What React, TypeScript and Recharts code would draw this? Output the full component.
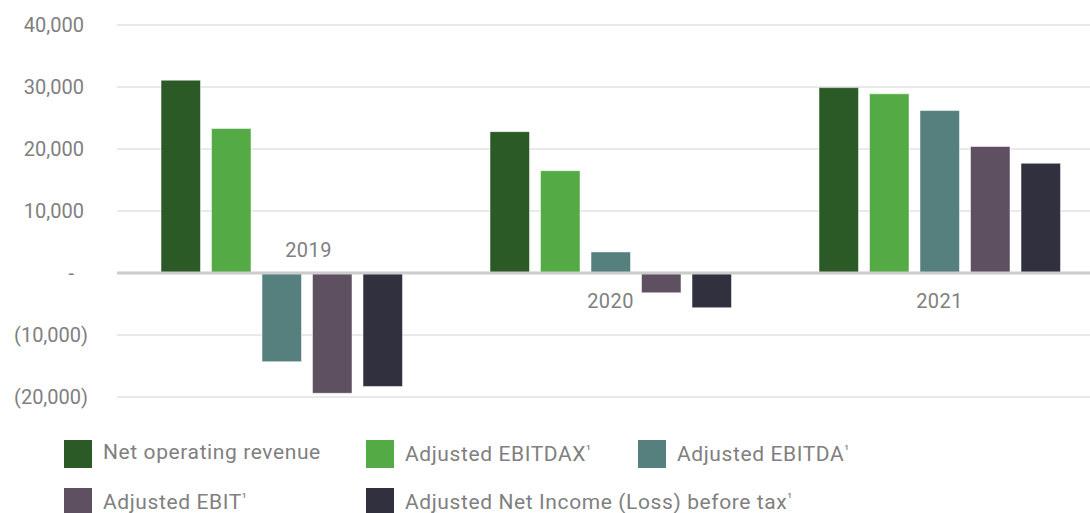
import { BarChart, Bar, XAxis, YAxis, CartesianGrid, ReferenceLine, Legend } from "recharts";

const categories = ["2019", "2020", "2021"];
const netOperatingRevenue = [31100, 22800, 29900];
const adjustedEbitdax = [23300, 16500, 28900];
const adjustedEbitda = [-14300, 3400, 26200];
const adjustedEbit = [-19400, -3200, 20400];
const adjustedNetIncome = [-18300, -5600, 17700];
const yTicks = [-20000, -10000, 0, 10000, 20000, 30000, 40000];

const series = [
  { key: "nor", name: "Net operating revenue", values: netOperatingRevenue, color: "#2c5a27" },
  { key: "ebitdax", name: "Adjusted EBITDAX¹", values: adjustedEbitdax, color: "#54aa44" },
  { key: "ebitda", name: "Adjusted EBITDA¹", values: adjustedEbitda, color: "#55807e" },
  { key: "ebit", name: "Adjusted EBIT¹", values: adjustedEbit, color: "#5e5061" },
  { key: "ni", name: "Adjusted Net Income (Loss) before tax¹", values: adjustedNetIncome, color: "#31303f" },
];

const data = categories.map((c, i) => {
  const row: Record<string, any> = { year: c };
  series.forEach((s) => (row[s.key] = s.values[i]));
  return row;
});

const W = 1104;
const H = 513;
const TOP = 25;
const X_H = 1;
const LEGEND_H = 115;
const Y_MIN = -20000;
const Y_MAX = 40000;
const PLOT_H = H - TOP - LEGEND_H - X_H;
const ZERO_Y = TOP + (PLOT_H * Y_MAX) / (Y_MAX - Y_MIN);
const GREY = "#808080";

const fmt = (v: number) => {
  if (v === 0) return "-";
  const s = Math.abs(v).toLocaleString("en-US");
  return v < 0 ? `(${s})` : s;
};

function YTick({ y, payload }: any) {
  const v = payload.value;
  const x = v === 0 ? 74 : v < 0 ? 88 : 84;
  return (
    <text x={x} y={y} dy={7} textAnchor="end" fill={GREY} fontSize={20}>
      {fmt(v)}
    </text>
  );
}

function XTick({ x, index, payload }: any) {
  // 2019 sits above the axis because its right-hand bars hang below it
  const above = index === 0;
  return (
    <text x={above ? x + 27 : x} y={above ? ZERO_Y - 16 : ZERO_Y + 35} textAnchor="middle" fill={GREY} fontSize={20} letterSpacing={0.4}>
      {payload.value}
    </text>
  );
}

function LegendBox() {
  const cell = (s: (typeof series)[number]) => {
    const [main, ...rest] = s.name.split("¹");
    return (
      <div key={s.key} style={{ display: "flex", alignItems: "center", height: 28 }}>
        <span style={{ width: 28, height: 28, flexShrink: 0, background: s.color, display: "inline-block", marginRight: 11 }} />
        <span style={{ color: GREY, fontSize: 21, lineHeight: "20px", letterSpacing: 0.6, whiteSpace: "nowrap", position: "relative", top: -2 }}>
          {main}
          {rest.length > 0 && <span style={{ fontSize: 13, verticalAlign: "7px" }}>¹</span>}
        </span>
      </div>
    );
  };
  return (
    <div style={{ position: "relative", height: LEGEND_H }}>
      <div style={{ position: "absolute", left: 64, top: 42, display: "grid", gridTemplateColumns: "302px 272px auto", rowGap: 20 }}>
        {series.map(cell)}
      </div>
    </div>
  );
}

export default function App() {
  return (
    <div style={{ position: "absolute", left: 0, top: 0, width: 1090, height: H, overflow: "hidden", background: "#fff", fontFamily: "Roboto, sans-serif" }}>
      <BarChart width={W} height={H} data={data} margin={{ top: TOP, right: 0, left: 0, bottom: 0 }} barSize={39.5} barGap={11}>
        <CartesianGrid vertical={false} stroke="#d4d4d4" />
        <XAxis dataKey="year" height={X_H} axisLine={false} tickLine={false} tick={<XTick />} interval={0} />
        <YAxis width={117} domain={[Y_MIN, Y_MAX]} ticks={yTicks} axisLine={false} tickLine={false} tick={<YTick />} interval={0} />
        <Legend verticalAlign="bottom" align="left" height={LEGEND_H} wrapperStyle={{ left: 0, width: 1090 }} content={() => <LegendBox />} />
        {series.map((s) => (
          <Bar key={s.key} dataKey={s.key} name={s.name} fill={s.color} stroke="rgba(255,255,255,0.5)" strokeWidth={1} isAnimationActive={false} />
        ))}
        <ReferenceLine y={0} stroke="#cccccc" strokeWidth={3} />
      </BarChart>
    </div>
  );
}
